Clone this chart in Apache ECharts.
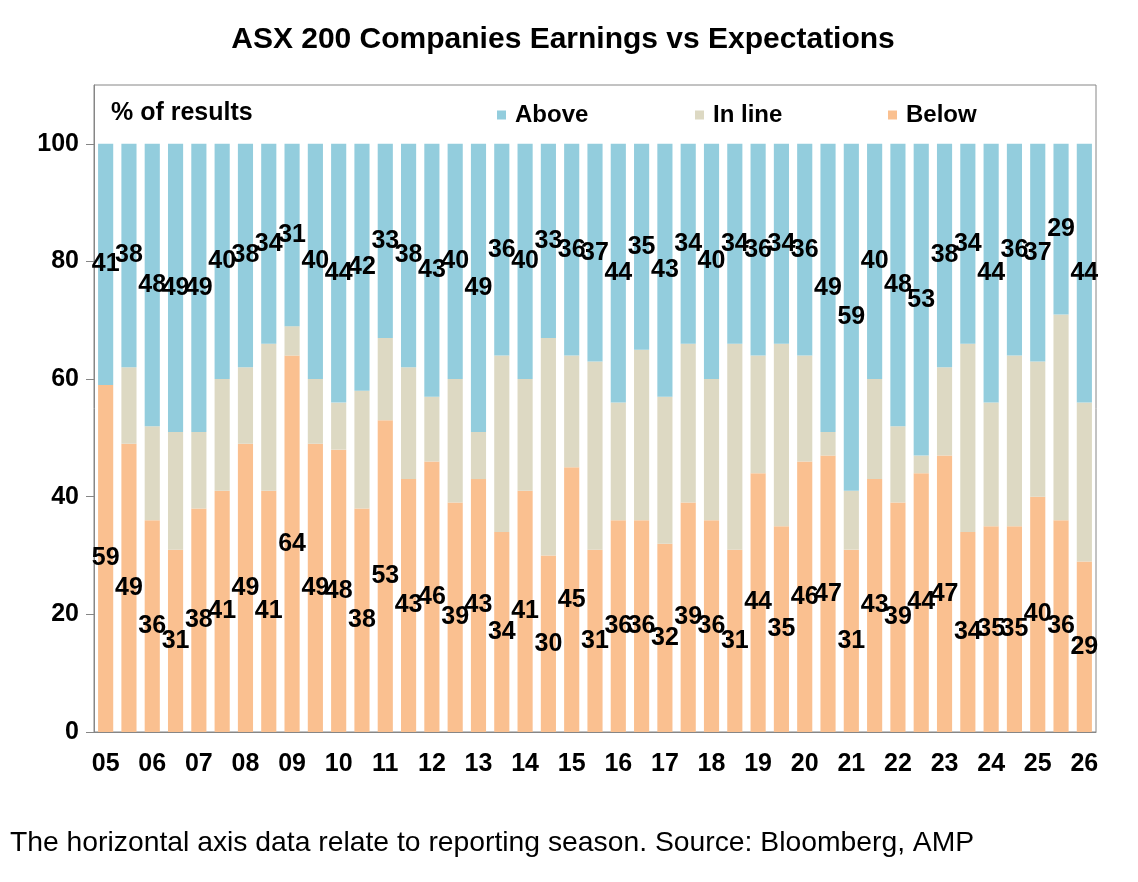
<!DOCTYPE html>
<html>
<head>
<meta charset="utf-8">
<title>ASX 200 Companies Earnings vs Expectations</title>
<script src="https://cdn.jsdelivr.net/npm/echarts/dist/echarts.min.js"></script>
<style>
  html, body { margin: 0; padding: 0; background: #ffffff; }
  #chart { width: 1138px; height: 882px; }
</style>
</head>
<body>
<div id="chart"></div>
<script>
// reporting seasons, Feb and Aug of each year
var seasons = ['Feb 05','Aug 05','Feb 06','Aug 06','Feb 07','Aug 07','Feb 08','Aug 08',
  'Feb 09','Aug 09','Feb 10','Aug 10','Feb 11','Aug 11','Feb 12','Aug 12','Feb 13','Aug 13',
  'Feb 14','Aug 14','Feb 15','Aug 15','Feb 16','Aug 16','Feb 17','Aug 17','Feb 18','Aug 18',
  'Feb 19','Aug 19','Feb 20','Aug 20','Feb 21','Aug 21','Feb 22','Aug 22','Feb 23','Aug 23',
  'Feb 24','Aug 24','Feb 25','Aug 25','Feb 26'];

// % of results
var below  = [59,49,36,31,38,41,49,41,64,49,48,38,53,43,46,39,43,34,41,30,45,31,
              36,36,32,39,36,31,44,35,46,47,31,43,39,44,47,34,35,35,40,36,29];
var inLine = [0,13,16,20,13,19,13,25,5,11,8,20,14,19,11,21,8,30,19,37,19,32,
              20,29,25,27,24,35,20,31,18,4,10,17,13,3,15,32,21,29,23,35,27];
var above  = [41,38,48,49,49,40,38,34,31,40,44,42,33,38,43,40,49,36,40,33,36,37,
              44,35,43,34,40,34,36,34,36,49,59,40,48,53,38,34,44,36,37,29,44];

var yTicks = [0, 20, 40, 60, 80, 100];

var myChart = echarts.init(document.getElementById('chart'));

var font = 'Liberation Sans, Arial, sans-serif';
var axisColor = '#868686';

function legendAt(name, left) {
  return {
    data: [name],
    left: left,
    top: 103,
    padding: 0,
    icon: 'rect',
    itemWidth: 9,
    itemHeight: 9,
    selectedMode: false,
    textStyle: {
      fontFamily: font,
      fontWeight: 'bold',
      fontSize: 24,
      color: '#000',
      padding: [0, 0, 0, 4]
    }
  };
}

function valueLabel() {
  return {
    show: true,
    position: 'inside',
    fontFamily: font,
    fontWeight: 'bold',
    fontSize: 25,
    color: '#000'
  };
}

var option = {
  animation: false,
  backgroundColor: '#ffffff',
  graphic: [
    {
      type: 'text', x: 563, y: 40,
      style: {
        text: 'ASX 200 Companies Earnings vs Expectations',
        font: 'bold 30px ' + font, fill: '#000',
        textAlign: 'center', textVerticalAlign: 'middle'
      }
    },
    {
      type: 'text', x: 111, y: 113,
      style: {
        text: '% of results',
        font: 'bold 25px ' + font, fill: '#000',
        textAlign: 'left', textVerticalAlign: 'middle'
      }
    },
    {
      type: 'text', x: 10, y: 843,
      style: {
        text: 'The horizontal axis data relate to reporting season. Source: Bloomberg, AMP',
        font: '28.3px ' + font, fill: '#000',
        textAlign: 'left', textVerticalAlign: 'middle'
      }
    }
  ],
  legend: [
    legendAt('Above', 497),
    legendAt('In line', 695),
    legendAt('Below', 888)
  ],
  grid: {
    show: true,
    left: 94,
    right: 42,
    top: 85,
    bottom: 150,
    borderColor: axisColor,
    borderWidth: 1,
    containLabel: false
  },
  xAxis: {
    type: 'category',
    data: seasons,
    axisLine: { show: true, lineStyle: { color: axisColor, width: 1 } },
    axisTick: { show: false },
    axisLabel: {
      interval: 1,
      margin: 20,
      fontFamily: font,
      fontWeight: 'bold',
      fontSize: 25,
      color: '#000',
      formatter: function (v) { return v.split(' ')[1]; }
    },
    splitLine: { show: false }
  },
  yAxis: {
    type: 'value',
    min: 0,
    max: 110,
    interval: 20,
    axisLine: { show: true, lineStyle: { color: axisColor, width: 1 } },
    axisTick: {
      show: true, inside: false, length: 8,
      lineStyle: { color: axisColor },
      customValues: yTicks
    },
    axisLabel: {
      margin: 15,
      fontFamily: font,
      fontWeight: 'bold',
      fontSize: 25,
      color: '#000',
      customValues: yTicks
    },
    splitLine: { show: false }
  },
  series: [
    {
      name: 'Below',
      type: 'bar',
      stack: 'total',
      barCategoryGap: '35%',
      itemStyle: { color: '#FAC090' },
      label: valueLabel(),
      data: below
    },
    {
      name: 'In line',
      type: 'bar',
      stack: 'total',
      barCategoryGap: '35%',
      itemStyle: { color: '#DDD9C3' },
      label: { show: false },
      data: inLine
    },
    {
      name: 'Above',
      type: 'bar',
      stack: 'total',
      barCategoryGap: '35%',
      itemStyle: { color: '#93CDDD' },
      label: valueLabel(),
      data: above
    }
  ]
};

myChart.setOption(option);
</script>
</body>
</html>
